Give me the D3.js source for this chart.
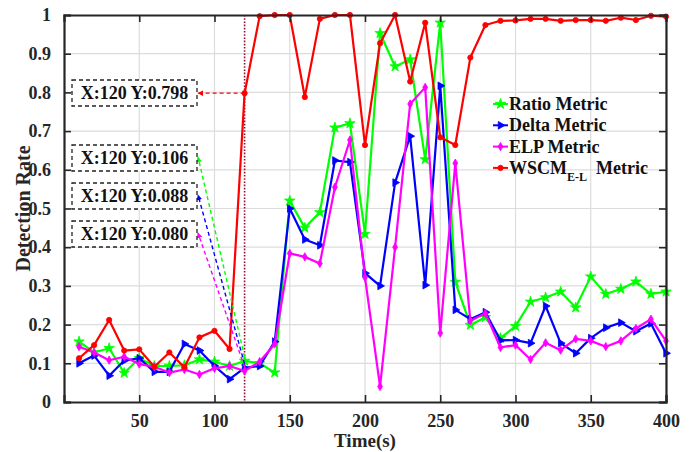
<!DOCTYPE html>
<html>
<head>
<meta charset="utf-8">
<script src="https://cdn.jsdelivr.net/npm/d3@7"></script>
<style>
  body { margin: 0; background: #fff; }
  text { font-family: "Liberation Serif", "Times New Roman", serif; font-weight: bold; }
</style>
</head>
<body>
<div id="chart-container"></div>
<script>
// Time axis (seconds)
const times = [10, 20, 30, 40, 50, 60, 70, 80, 90, 100,
  110, 120, 130, 140, 150, 160, 170, 180, 190, 200,
  210, 220, 230, 240, 250, 260, 270, 280, 290, 300,
  310, 320, 330, 340, 350, 360, 370, 380, 390, 400];

// Detection rate series
const ratioMetric = [0.156, 0.128, 0.139, 0.075, 0.113, 0.093, 0.093, 0.095, 0.110, 0.104,
  0.093, 0.106, 0.100, 0.076, 0.520, 0.450, 0.490, 0.709, 0.720, 0.434,
  0.953, 0.867, 0.885, 0.627, 0.980, 0.310, 0.199, 0.219, 0.165, 0.196,
  0.259, 0.270, 0.285, 0.244, 0.324, 0.279, 0.292, 0.311, 0.279, 0.285];

const deltaMetric = [0.100, 0.120, 0.068, 0.107, 0.113, 0.078, 0.078, 0.150, 0.133, 0.093,
  0.059, 0.088, 0.093, 0.156, 0.500, 0.420, 0.405, 0.624, 0.620, 0.333,
  0.300, 0.567, 0.687, 0.302, 0.817, 0.238, 0.214, 0.232, 0.159, 0.160,
  0.152, 0.248, 0.152, 0.126, 0.165, 0.192, 0.205, 0.183, 0.203, 0.126];

const elpMetric = [0.143, 0.128, 0.108, 0.117, 0.098, 0.091, 0.076, 0.084, 0.071, 0.087,
  0.093, 0.080, 0.104, 0.150, 0.384, 0.375, 0.358, 0.555, 0.677, 0.322,
  0.040, 0.400, 0.770, 0.813, 0.178, 0.617, 0.210, 0.229, 0.141, 0.147,
  0.110, 0.153, 0.134, 0.163, 0.158, 0.143, 0.158, 0.190, 0.214, 0.158];

const wscmMetric = [0.113, 0.147, 0.212, 0.133, 0.136, 0.091, 0.128, 0.090, 0.167, 0.184,
  0.137, 0.798, 0.997, 1.000, 1.000, 0.788, 0.990, 1.000, 1.000, 0.664,
  0.927, 1.000, 0.828, 0.980, 0.684, 0.664, 0.890, 0.974, 0.985, 0.986,
  0.990, 0.990, 0.985, 0.987, 0.987, 0.985, 0.993, 0.987, 0.998, 0.996];

// Tick labels
const xTicks = [50, 100, 150, 200, 250, 300, 350, 400];
const yTicks = [0, 0.1, 0.2, 0.3, 0.4, 0.5, 0.6, 0.7, 0.8, 0.9, 1];
const yTickLabels = ["0", "0.1", "0.2", "0.3", "0.4", "0.5", "0.6", "0.7", "0.8", "0.9", "1"];

// Data tips at t = 120
const markTime = 120;
const tipLabels = ["X:120 Y:0.798", "X:120 Y:0.106", "X:120 Y:0.088", "X:120 Y:0.080"];
const tipValues = [0.798, 0.106, 0.088, 0.080];

const seriesNames = ["Ratio Metric", "Delta Metric", "ELP Metric", "WSCM"];

const series = [
  { name: seriesNames[0], values: ratioMetric, color: "#00ff00", symbol: d3.symbolStar, size: 34, rot: 0 },
  { name: seriesNames[1], values: deltaMetric, color: "#0000ff", symbol: d3.symbolTriangle, size: 26, rot: 90 },
  { name: seriesNames[2], values: elpMetric, color: "#ff00ff", symbol: d3.symbolDiamond, size: 20, rot: 0 },
  { name: seriesNames[3], values: wscmMetric, color: "#ff0000", symbol: d3.symbolCircle, size: 22, rot: 0 }
];

const W = 694, H = 452;
const margin = { top: 15, right: 28, bottom: 50, left: 64 };
const width = W - margin.left - margin.right;
const height = H - margin.top - margin.bottom;

const x = d3.scaleLinear().domain([0, 400]).range([0, width]);
const y = d3.scaleLinear().domain([0, 1]).range([height, 0]);

const svg = d3.select("#chart-container")
  .append("svg")
  .attr("width", W)
  .attr("height", H);

const defs = svg.append("defs");
["#ff0000", "#00ff00", "#0000ff", "#ff00ff"].forEach((c, i) => {
  defs.append("marker")
    .attr("id", "arrow" + i)
    .attr("viewBox", "0 0 10 10")
    .attr("refX", 9).attr("refY", 5)
    .attr("markerWidth", 4).attr("markerHeight", 4)
    .attr("orient", "auto")
    .append("path")
    .attr("d", "M0,0 L10,5 L0,10 z")
    .attr("fill", c);
});

const g = svg.append("g")
  .attr("transform", `translate(${margin.left},${margin.top})`);

// grid lines
g.selectAll(".xgrid")
  .data(xTicks)
  .join("line")
  .attr("x1", d => x(d)).attr("x2", d => x(d))
  .attr("y1", 0).attr("y2", height)
  .attr("stroke", "#dcdcdc")
  .attr("stroke-width", 1.2);

g.selectAll(".ygrid")
  .data(yTicks.slice(1, -1))
  .join("line")
  .attr("x1", 0).attr("x2", width)
  .attr("y1", d => y(d)).attr("y2", d => y(d))
  .attr("stroke", "#dcdcdc")
  .attr("stroke-width", 1.2);

// vertical marker line at t = 120
g.append("line")
  .attr("x1", x(markTime)).attr("x2", x(markTime))
  .attr("y1", 0).attr("y2", height)
  .attr("stroke", "#951030")
  .attr("stroke-width", 1.6)
  .attr("stroke-dasharray", "1.6,1.6");

// series lines
const line = d3.line()
  .x((d, i) => x(times[i]))
  .y(d => y(d));

series.forEach(s => {
  g.append("path")
    .datum(s.values)
    .attr("fill", "none")
    .attr("stroke", s.color)
    .attr("stroke-width", 2.2)
    .attr("stroke-linejoin", "round")
    .attr("d", line);

  g.selectAll(null)
    .data(s.values)
    .join("path")
    .attr("transform", (d, i) => `translate(${x(times[i])},${y(d)}) rotate(${s.rot})`)
    .attr("d", d3.symbol(s.symbol, s.size))
    .attr("fill", s.color)
    .attr("stroke", s.color)
    .attr("stroke-width", 0.8);
});

// axes
const axisColor = "#262626";

const xAxis = g.append("g")
  .attr("transform", `translate(0,${height})`)
  .call(d3.axisBottom(x).tickValues(xTicks).tickSize(-7).tickPadding(12));
const xTop = g.append("g")
  .call(d3.axisTop(x).tickValues(xTicks).tickSize(-7).tickFormat(""));
const yAxis = g.append("g")
  .call(d3.axisLeft(y).tickValues(yTicks).tickSize(-7).tickPadding(13)
    .tickFormat((d, i) => yTickLabels[i]));
const yRight = g.append("g")
  .attr("transform", `translate(${width},0)`)
  .call(d3.axisRight(y).tickValues(yTicks).tickSize(-7).tickFormat(""));

[xAxis, xTop, yAxis, yRight].forEach(a => {
  a.select(".domain").attr("stroke", axisColor).attr("stroke-width", 2.2);
  a.selectAll(".tick line").attr("stroke", axisColor).attr("stroke-width", 1.6);
  a.selectAll(".tick text")
    .attr("fill", axisColor)
    .style("font-size", "18px")
    .style("font-family", "'Liberation Serif', serif")
    .style("font-weight", "bold");
});

// axis labels
g.append("text")
  .attr("x", width / 2)
  .attr("y", height + 45)
  .attr("text-anchor", "middle")
  .attr("fill", axisColor)
  .style("font-size", "19px")
  .text("Time(s)");

g.append("text")
  .attr("transform", "rotate(-90)")
  .attr("x", -height / 2)
  .attr("y", -margin.left + 30)
  .attr("text-anchor", "middle")
  .attr("fill", axisColor)
  .style("font-size", "20px")
  .text("Detection Rate");

// data tips
const tipColors = ["#ff0000", "#00ff00", "#0000ff", "#ff00ff"];
const boxTop = [65, 130, 168, 206];
const boxLeft = 8, boxW = 125, boxH = 26;

tipLabels.forEach((t, i) => {
  const bx = boxLeft, by = boxTop[i];
  const ax = boxLeft + boxW + 1;
  const ay = i === 0 ? y(tipValues[0]) : by + 12;
  g.append("line")
    .attr("x1", x(markTime)).attr("y1", y(tipValues[i]) - (i === 0 ? 0 : 4))
    .attr("x2", ax).attr("y2", ay)
    .attr("stroke", tipColors[i])
    .attr("stroke-width", 1.4)
    .attr("stroke-dasharray", "4,3")
    .attr("marker-end", `url(#arrow${i})`);

  g.append("rect")
    .attr("x", bx).attr("y", by)
    .attr("width", boxW).attr("height", boxH)
    .attr("fill", "#fff")
    .attr("stroke", "#222")
    .attr("stroke-width", 1.3)
    .attr("stroke-dasharray", "4,3");

  g.append("text")
    .attr("x", bx + boxW / 2)
    .attr("y", by + boxH / 2 + 6)
    .attr("text-anchor", "middle")
    .attr("fill", "#111")
    .style("font-size", "18px")
    .text(t);
});

// legend
const legend = g.append("g")
  .attr("transform", `translate(${493 - margin.left},${104 - margin.top})`);

series.forEach((s, i) => {
  const row = legend.append("g").attr("transform", `translate(0,${i * 21.3})`);
  row.append("line")
    .attr("x1", 0).attr("x2", 15)
    .attr("stroke", s.color).attr("stroke-width", 2);
  row.append("path")
    .attr("transform", `translate(7.5,0) rotate(${s.rot})`)
    .attr("d", d3.symbol(s.symbol, s.size))
    .attr("fill", s.color)
    .attr("stroke", s.color)
    .attr("stroke-width", 0.8);
  const txt = row.append("text")
    .attr("x", 16)
    .attr("y", 6)
    .attr("fill", "#111")
    .style("font-size", "18px");
  if (i === 3) {
    txt.append("tspan").text("WSCM");
    txt.append("tspan").attr("dy", 7).style("font-size", "12px").text("E-L");
    txt.append("tspan").attr("dy", -7).attr("dx", 9).text("Metric");
  } else {
    txt.text(s.name);
  }
});
</script>
</body>
</html>
